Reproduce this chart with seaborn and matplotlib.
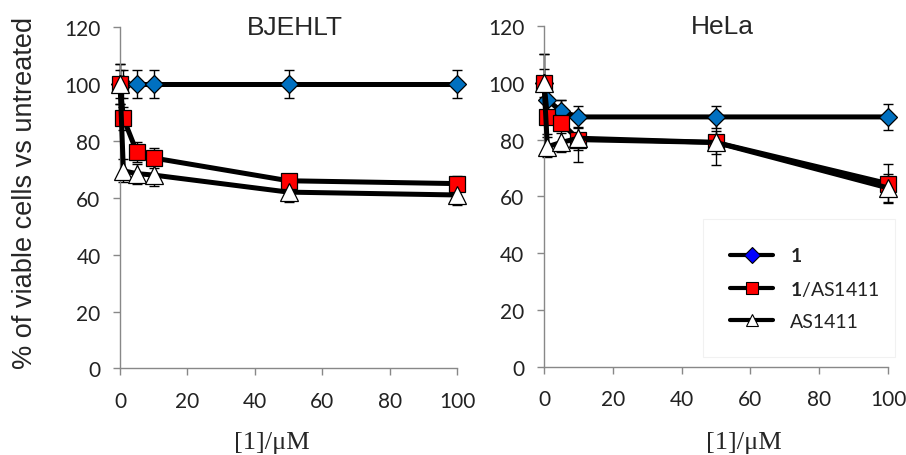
import numpy as np
import seaborn as sns
import matplotlib.pyplot as plt
from matplotlib.lines import Line2D

# concentrations of compound 1 (uM)
conc = [0, 1, 5, 10, 50, 100]

# BJEHLT
bj_1 = [100, 100, 100, 100, 100, 100]
bj_1_err = [5, 5, 5, 5, 5, 5]
bj_mix = [100, 88, 76, 74, 66, 65]
bj_mix_err = [7, 4, 3.5, 3.5, 2.5, 2.5]
bj_as = [100, 69.5, 68.5, 68, 62, 61]
bj_as_err = [7, 4, 3.5, 4, 3.5, 3.5]

# HeLa
he_1 = [100, 94, 90, 88, 88, 88]
he_1_err = [5, 4, 4, 4, 4, 4.5]
he_mix = [100, 88, 86, 80, 79, 64.5]
he_mix_err = [10, 6, 8, 8, 8, 7]
he_as = [100, 77.5, 79, 80.5, 79, 63]
he_as_err = [10, 3.5, 3.5, 4, 4, 5]

sns.set_style("white")
plt.rcParams['font.family'] = ['Lato', 'DejaVu Sans']
plt.rcParams['mathtext.fontset'] = 'custom'
plt.rcParams['mathtext.bf'] = 'Lato:bold'
plt.rcParams['mathtext.rm'] = 'Lato'

fig = plt.figure(figsize=(9.06, 4.56), dpi=100)
ax1 = fig.add_axes([0.1325, 0.190, 0.372, 0.748])
ax2 = fig.add_axes([0.6004, 0.1936, 0.3797, 0.747])

series_style = [
    dict(marker='D', mfc='#0070C0', ms=9.5),
    dict(marker='s', mfc='#FF0000', ms=11),
    dict(marker='^', mfc='white', ms=12.5),
]


def draw_panel(ax, title, ys, errs):
    for y, e, st in zip(ys, errs, series_style):
        ax.errorbar(conc, y, yerr=e, fmt='none', ecolor='black',
                    elinewidth=1.0, capsize=3.6, capthick=1.0, zorder=2,
                    clip_on=False)
        sns.lineplot(x=conc, y=y, ax=ax, color='black', linewidth=3.6,
                     marker=st['marker'], markersize=st['ms'],
                     markerfacecolor=st['mfc'], markeredgecolor='black',
                     markeredgewidth=0.9, zorder=3, clip_on=False)
    ax.set_xlim(0, 100)
    ax.set_ylim(0, 120)
    ax.set_xticks(np.arange(0, 101, 20))
    ax.set_yticks(np.arange(0, 121, 20))
    for side in ['top', 'right']:
        ax.spines[side].set_visible(False)
    for side in ['left', 'bottom']:
        ax.spines[side].set_color('#888888')
        ax.spines[side].set_linewidth(1.0)
    ax.tick_params(axis='both', direction='out', length=5, width=1,
                   color='#888888', labelsize=15, labelcolor='#222222',
                   left=True, bottom=True, pad=9)
    ax.tick_params(axis='x', pad=11)
    ax.set_xlabel('')
    ax.set_ylabel('')
    ax.text(0.52, 1.0, title, transform=ax.transAxes, ha='center',
            va='center', fontsize=19, family='Liberation Sans')


draw_panel(ax1, 'BJEHLT', [bj_1, bj_mix, bj_as], [bj_1_err, bj_mix_err, bj_as_err])
draw_panel(ax2, 'HeLa', [he_1, he_mix, he_as], [he_1_err, he_mix_err, he_as_err])

ax1.text(0.45, -0.215, '[1]/\u03bcM', transform=ax1.transAxes, ha='center',
         va='center', fontsize=19, family='Liberation Serif')
ax2.text(0.58, -0.22, '[1]/\u03bcM', transform=ax2.transAxes, ha='center',
         va='center', fontsize=19, family='Liberation Serif')
fig.text(0.028, 0.577, '% of viable cells vs untreated', rotation=90,
         ha='center', va='center', fontsize=19.5, family='Liberation Sans')

handles = [
    Line2D([], [], color='black', lw=3, marker='D', ms=8,
           mfc='#0000FF', mec='black', mew=0.8),
    Line2D([], [], color='black', lw=3, marker='s', ms=9,
           mfc='#FF0000', mec='black', mew=0.8),
    Line2D([], [], color='black', lw=3, marker='^', ms=9,
           mfc='white', mec='black', mew=0.8),
]
labels = [r'$\mathbf{1}$', r'$\mathbf{1}$/AS1411', 'AS1411']
leg = ax2.legend(handles, labels, loc='upper left',
                 bbox_to_anchor=(0.462, 0.023, 0.558, 0.41), mode='expand',
                 frameon=True, fancybox=False,
                 edgecolor='#eeeeee', fontsize=14, handlelength=2.2,
                 labelspacing=0.75, borderpad=1.4, handletextpad=0.9,
                 borderaxespad=0)
leg.get_frame().set_linewidth(0.8)
for t in leg.get_texts():
    t.set_color('#222222')

fig.savefig('out.png', dpi=100)
